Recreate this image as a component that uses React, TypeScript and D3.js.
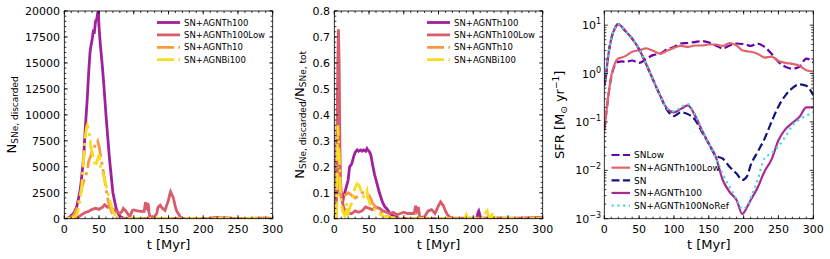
// Three-panel SNe / SFR comparison figure
import React, { useEffect, useRef } from 'react';
import * as d3 from 'd3';

const W = 830;
const H = 259;
const FONT = "'DejaVu Sans', sans-serif";

const labels = ['SN+AGNTh100', 'SN+AGNTh100Low', 'SN+AGNTh10', 'SN+AGNBi100'];
const colors = ['#a0229a', '#d95c6c', '#f99a3e', '#f6dd22'];

// ---- panel 1: N_SNe,discarded ----
const n1TimeTh100 = [3, 5, 8, 10, 13, 15, 18, 20, 23, 25, 28, 30, 33, 35, 37, 38, 40, 42, 43, 45, 47, 48, 49, 50, 51, 52, 55, 57, 60, 62, 65, 68, 70, 73, 75, 78, 80, 85, 90, 300];
const n1Th100 = [0, 50, 150, 300, 500, 700, 1200, 1800, 2800, 4000, 6000, 8500, 11500, 14000, 16000, 16500, 17200, 18200, 17800, 19000, 19300, 19800, 20000, 18500, 17500, 16700, 14500, 12800, 10000, 8300, 5800, 3800, 2500, 1500, 900, 450, 250, 50, 0, 0];
const n1TimeLow = [5, 10, 15, 20, 25, 30, 35, 40, 45, 48, 50, 52, 55, 58, 60, 62, 65, 68, 70, 73, 75, 78, 80, 83, 85, 88, 90, 93, 95, 98, 100, 105, 110, 115, 116, 117, 118, 119, 120, 121, 122, 123, 125, 130, 133, 135, 138, 140, 143, 145, 148, 150, 152, 153, 155, 157, 160, 162, 165, 167, 170, 180, 200, 210, 215, 220, 225, 230, 240, 260, 280, 290, 300];
const n1Low = [0, 20, 60, 150, 400, 600, 700, 900, 1000, 950, 900, 1000, 1100, 1350, 1250, 1100, 1200, 1050, 900, 800, 700, 600, 500, 700, 1000, 800, 600, 300, 300, 800, 850, 750, 700, 700, 1200, 1600, 1100, 1000, 1500, 1300, 600, 200, 200, 200, 500, 1100, 1300, 1100, 900, 800, 1400, 1800, 2400, 2600, 2300, 2000, 1100, 700, 400, 150, 0, 0, 0, 50, 100, 120, 80, 100, 50, 30, 50, 80, 30];
const n1TimeTh10 = [3, 8, 10, 13, 15, 18, 20, 23, 25, 28, 30, 33, 35, 38, 40, 43, 45, 47, 48, 50, 52, 55, 58, 60, 63, 65, 68, 70, 75, 80, 90, 300];
const n1Th10 = [0, 50, 100, 300, 500, 1000, 1500, 2300, 3000, 3600, 4000, 4600, 5500, 6000, 6500, 6800, 7200, 7400, 7500, 7000, 6200, 5000, 3800, 2800, 1800, 1200, 700, 400, 100, 0, 0, 0];
const n1TimeBi = [5, 10, 13, 15, 18, 20, 22, 25, 27, 28, 30, 32, 33, 35, 37, 38, 40, 42, 45, 47, 50, 52, 55, 58, 60, 63, 65, 68, 70, 73, 75, 80, 90, 300];
const n1Bi = [0, 50, 100, 200, 400, 800, 1500, 3000, 5000, 6000, 7800, 8800, 9000, 8500, 7800, 7000, 6400, 5800, 5000, 5500, 6200, 5000, 4500, 3800, 3200, 2500, 1800, 1200, 700, 400, 200, 0, 0, 0];

// ---- panel 2: fraction discarded ----
const n2TimeTh100 = [2, 3, 4, 5, 6, 7, 8, 10, 12, 13, 15, 17, 20, 22, 25, 28, 30, 33, 35, 38, 40, 42, 45, 47, 48, 50, 52, 53, 55, 58, 60, 63, 65, 68, 70, 73, 75, 78, 80, 85, 90, 95, 205, 207, 208, 209, 211, 300];
const n2Th100 = [0, 0.1, 0.3, 0.5, 0.25, 0.15, 0.1, 0.1, 0.06, 0.08, 0.1, 0.12, 0.15, 0.2, 0.21, 0.24, 0.255, 0.265, 0.26, 0.265, 0.26, 0.265, 0.26, 0.27, 0.265, 0.26, 0.25, 0.24, 0.21, 0.17, 0.15, 0.12, 0.1, 0.075, 0.06, 0.045, 0.04, 0.03, 0.02, 0.01, 0.005, 0, 0, 0.025, 0.03, 0.02, 0, 0];
const n2TimeLow = [3, 4, 5, 6, 7, 8, 9, 10, 12, 15, 18, 20, 25, 30, 35, 40, 45, 50, 55, 60, 65, 70, 75, 80, 85, 90, 95, 100, 105, 110, 115, 117, 119, 121, 123, 126, 130, 135, 140, 145, 150, 153, 157, 160, 163, 167, 170, 200, 230, 260, 300];
const n2Low = [0, 0.3, 0.6, 0.73, 0.6, 0.3, 0.15, 0.1, 0.06, 0.03, 0.02, 0.02, 0.02, 0.03, 0.025, 0.03, 0.045, 0.04, 0.035, 0.045, 0.04, 0.03, 0.025, 0.02, 0.025, 0.015, 0.02, 0.025, 0.02, 0.02, 0.02, 0.05, 0.03, 0.045, 0.005, 0.005, 0.008, 0.03, 0.035, 0.02, 0.05, 0.065, 0.05, 0.03, 0.015, 0.005, 0.002, 0.002, 0.003, 0.002, 0.005];
const n2TimeTh10 = [3, 4, 5, 6, 7, 8, 10, 12, 15, 18, 20, 23, 25, 28, 30, 33, 35, 38, 40, 43, 45, 48, 50, 53, 55, 58, 60, 65, 70, 75, 80, 90, 300];
const n2Th10 = [0, 0.1, 0.2, 0.15, 0.12, 0.1, 0.08, 0.085, 0.09, 0.095, 0.1, 0.095, 0.09, 0.085, 0.08, 0.085, 0.09, 0.095, 0.1, 0.1, 0.1, 0.095, 0.09, 0.075, 0.06, 0.05, 0.04, 0.03, 0.015, 0.01, 0.005, 0, 0];
const n2TimeBi = [3, 4, 5, 6, 7, 8, 9, 10, 12, 15, 17, 18, 19, 20, 22, 25, 28, 30, 32, 33, 35, 37, 40, 42, 45, 47, 48, 50, 52, 55, 58, 60, 65, 70, 80, 100, 188, 190, 192, 215, 218, 220, 222, 226, 228, 230, 232, 300];
const n2Bi = [0, 0.2, 0.36, 0.3, 0.25, 0.18, 0.1, 0.06, 0.03, 0.01, 0.03, 0.06, 0.03, 0.02, 0.04, 0.06, 0.1, 0.12, 0.13, 0.135, 0.13, 0.12, 0.09, 0.085, 0.1, 0.11, 0.08, 0.07, 0.05, 0.04, 0.035, 0.03, 0.02, 0.01, 0.005, 0, 0, 0.015, 0, 0, 0.025, 0.03, 0.01, 0.005, 0.025, 0.01, 0, 0];

// ---- panel 3: SFR ----
const sfrTime = [0, 2.5, 5, 10, 15, 20, 25, 30, 40, 50, 60, 70, 80, 90, 100, 110, 120, 130, 140, 150, 160, 170, 180, 190, 198, 205, 210, 220, 230, 240, 250, 260, 270, 280, 290, 300];
const sfrSNLow = [0.068, 0.14, 0.28, 0.85, 1.48, 1.74, 1.78, 1.74, 1.86, 1.66, 2.0, 2.4, 2.57, 3.16, 3.55, 4.17, 4.27, 4.47, 4.68, 4.37, 3.8, 3.31, 3.8, 4.17, 4.07, 3.89, 3.72, 4.17, 3.55, 2.57, 1.74, 1.38, 1.26, 1.38, 2.04, 1.7];
const sfrTh100Low = [0.068, 0.14, 0.28, 0.89, 1.58, 2.04, 2.14, 2.29, 2.82, 3.02, 3.31, 2.95, 2.57, 2.95, 3.39, 3.72, 3.55, 3.8, 3.8, 3.98, 3.98, 3.72, 4.27, 3.8, 3.02, 2.88, 2.82, 2.57, 2.14, 2.24, 1.82, 1.66, 1.58, 1.45, 1.17, 1.1];
const sfrSN = [0.56, 0.89, 2.0, 5.25, 8.5, 10.5, 9.3, 7.6, 5.25, 3.16, 1.58, 0.74, 0.355, 0.178, 0.132, 0.158, 0.145, 0.112, 0.063, 0.0355, 0.02, 0.0174, 0.0117, 0.0085, 0.0063, 0.0076, 0.0126, 0.024, 0.0447, 0.1, 0.209, 0.355, 0.5, 0.6, 0.56, 0.355];
const sfrTh100 = [0.56, 0.89, 2.0, 5.25, 8.5, 10.5, 9.3, 7.6, 5.25, 3.16, 1.58, 0.74, 0.355, 0.19, 0.158, 0.186, 0.219, 0.138, 0.068, 0.0355, 0.019, 0.0063, 0.00355, 0.0024, 0.00126, 0.00174, 0.0024, 0.00437, 0.0095, 0.0166, 0.0417, 0.0708, 0.0955, 0.126, 0.2, 0.2];
const sfrNoRef = [0.56, 0.89, 2.0, 5.25, 8.5, 10.5, 9.3, 7.6, 5.25, 3.16, 1.58, 0.74, 0.355, 0.19, 0.166, 0.2, 0.234, 0.145, 0.0708, 0.0355, 0.0178, 0.0085, 0.00447, 0.0025, 0.00158, 0.00186, 0.00263, 0.0063, 0.0178, 0.0224, 0.0316, 0.05, 0.085, 0.112, 0.135, 0.158];
const sfrLabels = ['SNLow', 'SN+AGNTh100Low', 'SN', 'SN+AGNTh100', 'SN+AGNTh100NoRef'];
const sfrColors = ['#6a00a8', '#e0646a', '#14147e', '#ab2898', '#48d8cf'];

const yTicks1 = [0, 2500, 5000, 7500, 10000, 12500, 15000, 17500, 20000];
const yTicks2 = [0, 0.1, 0.2, 0.3, 0.4, 0.5, 0.6, 0.7, 0.8];
const xTicks = [0, 50, 100, 150, 200, 250, 300];
const sfrTicks = [1e-3, 1e-2, 1e-1, 1, 10];
const sfrExp = ['\u22123', '\u22122', '\u22121', '0', '1'];

const TOP = 11;
const BOTTOM = 218.7;

type Sel = d3.Selection<SVGGElement, unknown, null, undefined>;

function frame(g: Sel, x: any, y: any, xMinor: number[], yMinor: number[], yMajor: number[]) {
  const [x0, x1] = x.range();
  const [yb, yt] = y.range();
  const tk = (len: number, xs: number[], ys: number[]) => {
    xs.forEach(v => {
      const px = x(v);
      g.append('line').attr('x1', px).attr('x2', px).attr('y1', yb).attr('y2', yb - len).attr('stroke', '#000').attr('stroke-width', 0.8);
      g.append('line').attr('x1', px).attr('x2', px).attr('y1', yt).attr('y2', yt + len).attr('stroke', '#000').attr('stroke-width', 0.8);
    });
    ys.forEach(v => {
      const py = y(v);
      g.append('line').attr('y1', py).attr('y2', py).attr('x1', x0).attr('x2', x0 + len).attr('stroke', '#000').attr('stroke-width', 0.8);
      g.append('line').attr('y1', py).attr('y2', py).attr('x1', x1).attr('x2', x1 - len).attr('stroke', '#000').attr('stroke-width', 0.8);
    });
  };
  tk(2, xMinor, yMinor);
  tk(3.5, xTicks, yMajor);
  g.append('rect').attr('x', x0).attr('y', yt).attr('width', x1 - x0).attr('height', yb - yt)
    .attr('fill', 'none').attr('stroke', '#000').attr('stroke-width', 0.8);
  xTicks.forEach(v => {
    g.append('text').attr('x', x(v)).attr('y', BOTTOM + 14.5).attr('text-anchor', 'middle')
      .attr('font-size', 11).text(String(v));
  });
  g.append('text').attr('x', (x0 + x1) / 2).attr('y', 248.5).attr('text-anchor', 'middle')
    .attr('font-size', 13).text('t [Myr]');
}

function legend(g: Sel, names: string[], cols: string[], dashes: (string | null)[], x0: number, x1: number, y0: number, dy: number, fs: number, lw: number) {
  names.forEach((n, i) => {
    const y = y0 + i * dy;
    g.append('line').attr('x1', x0).attr('x2', x1).attr('y1', y).attr('y2', y)
      .attr('stroke', cols[i]).attr('stroke-width', lw)
      .attr('stroke-dasharray', dashes[i]);
    g.append('text').attr('x', x1 + 4).attr('y', y + fs * 0.36).attr('font-size', fs).text(n);
  });
}

export default function App() {
  const ref = useRef<SVGSVGElement>(null);

  useEffect(() => {
    if (!ref.current) return;
    const svg = d3.select(ref.current);
    svg.selectAll('*').remove();
    const root = svg.append('g').attr('font-family', FONT).attr('fill', '#000') as unknown as Sel;
    const defs = svg.append('defs');

    const xMinor = d3.range(0, 301, 10);
    const dashDot = '17,4.5,3,4.5';

    // ---------- panel 1 ----------
    const x1 = d3.scaleLinear().domain([0, 300]).range([64.3, 272.7]);
    const y1 = d3.scaleLinear().domain([0, 20000]).range([BOTTOM, TOP]);
    defs.append('clipPath').attr('id', 'c1').append('rect')
      .attr('x', 64.3).attr('y', TOP).attr('width', 208.4).attr('height', BOTTOM - TOP);
    const p1 = root.append('g').attr('clip-path', 'url(#c1)');
    const line1 = d3.line<[number, number]>().x(d => x1(d[0])).y(d => y1(d[1]));
    const s1 = [d3.zip(n1TimeTh100, n1Th100), d3.zip(n1TimeLow, n1Low), d3.zip(n1TimeTh10, n1Th10), d3.zip(n1TimeBi, n1Bi)];
    s1.forEach((s, i) => {
      p1.append('path').attr('d', line1(s as [number, number][]) as string)
        .attr('fill', 'none').attr('stroke', colors[i]).attr('stroke-width', 2.8)
        .attr('stroke-dasharray', i >= 2 ? dashDot : null);
    });
    frame(root, x1, y1, xMinor, d3.range(0, 20001, 500), yTicks1);
    yTicks1.forEach(v => {
      root.append('text').attr('x', 60).attr('y', y1(v) + 4).attr('text-anchor', 'end')
        .attr('font-size', 11).text(String(v));
    });
    const yl1 = root.append('text').attr('transform', `translate(15.5,${(TOP + BOTTOM) / 2}) rotate(-90)`)
      .attr('text-anchor', 'middle').attr('font-size', 13);
    yl1.append('tspan').text('N');
    yl1.append('tspan').attr('font-size', 9).attr('dy', 2.5).text('SNe, discarded');
    legend(root, labels, colors, [null, null, dashDot, dashDot], 157, 180, 22.5, 12.4, 8.5, 2.8);

    // ---------- panel 2 ----------
    const x2 = d3.scaleLinear().domain([0, 300]).range([334.3, 542.7]);
    const y2 = d3.scaleLinear().domain([0, 0.8]).range([BOTTOM, TOP]);
    defs.append('clipPath').attr('id', 'c2').append('rect')
      .attr('x', 334.3).attr('y', TOP).attr('width', 208.4).attr('height', BOTTOM - TOP);
    const p2 = root.append('g').attr('clip-path', 'url(#c2)');
    const line2 = d3.line<[number, number]>().x(d => x2(d[0])).y(d => y2(d[1]));
    const s2 = [d3.zip(n2TimeTh100, n2Th100), d3.zip(n2TimeLow, n2Low), d3.zip(n2TimeTh10, n2Th10), d3.zip(n2TimeBi, n2Bi)];
    s2.forEach((s, i) => {
      p2.append('path').attr('d', line2(s as [number, number][]) as string)
        .attr('fill', 'none').attr('stroke', colors[i]).attr('stroke-width', 2.8)
        .attr('stroke-dasharray', i >= 2 ? dashDot : null);
    });
    frame(root, x2, y2, xMinor, d3.range(0, 0.8001, 0.02), yTicks2);
    yTicks2.forEach(v => {
      root.append('text').attr('x', 330).attr('y', y2(v) + 4).attr('text-anchor', 'end')
        .attr('font-size', 11).text(v.toFixed(1));
    });
    const yl2 = root.append('text').attr('transform', `translate(303.5,${(TOP + BOTTOM) / 2}) rotate(-90)`)
      .attr('text-anchor', 'middle').attr('font-size', 13);
    yl2.append('tspan').text('N');
    yl2.append('tspan').attr('font-size', 9).attr('dy', 2.5).text('SNe, discarded');
    yl2.append('tspan').attr('dy', -2.5).text('/N');
    yl2.append('tspan').attr('font-size', 9).attr('dy', 2.5).text('SNe, tot');
    legend(root, labels, colors, [null, null, dashDot, dashDot], 427, 450, 22.5, 12.4, 8.5, 2.8);

    // ---------- panel 3 ----------
    const x3 = d3.scaleLinear().domain([0, 300]).range([604.3, 813.3]);
    const y3 = d3.scaleLog().domain([1e-3, 19.6]).range([BOTTOM, TOP]);
    defs.append('clipPath').attr('id', 'c3').append('rect')
      .attr('x', 604.3).attr('y', TOP).attr('width', 209).attr('height', BOTTOM - TOP);
    const p3 = root.append('g').attr('clip-path', 'url(#c3)');
    const line3 = d3.line<[number, number]>().x(d => x3(d[0])).y(d => y3(d[1])).curve(d3.curveMonotoneX);
    const s3 = [sfrSNLow, sfrTh100Low, sfrSN, sfrTh100, sfrNoRef].map(v => d3.zip(sfrTime, v));
    const sfrDash = ['8,3.5', null, '8,3.5', null, '2.2,3.6'];
    s3.forEach((s, i) => {
      p3.append('path').attr('d', line3(s as [number, number][]) as string)
        .attr('fill', 'none').attr('stroke', sfrColors[i]).attr('stroke-width', 2.2)
        .attr('stroke-dasharray', sfrDash[i]);
    });
    const logMinor: number[] = [];
    [-3, -2, -1, 0, 1].forEach(e => d3.range(2, 10).forEach(k => {
      const v = k * Math.pow(10, e);
      if (v < 19.6) logMinor.push(v);
    }));
    frame(root, x3, y3, xMinor, logMinor, sfrTicks);
    sfrTicks.forEach((v, i) => {
      const t = root.append('text').attr('x', 601).attr('y', y3(v) + 4).attr('text-anchor', 'end')
        .attr('font-size', 11);
      t.append('tspan').text('10');
      t.append('tspan').attr('font-size', 8).attr('dy', -5).text(sfrExp[i]);
    });
    const yl3 = root.append('text').attr('transform', `translate(564,${(TOP + BOTTOM) / 2}) rotate(-90)`)
      .attr('text-anchor', 'middle').attr('font-size', 13);
    yl3.append('tspan').text('SFR [M');
    yl3.append('tspan').attr('font-size', 9).attr('dy', 2.5).text('\u2299');
    yl3.append('tspan').attr('dy', -2.5).text(' yr');
    yl3.append('tspan').attr('font-size', 9).attr('dy', -5).text('\u22121');
    yl3.append('tspan').attr('dy', 5).text(']');
    legend(root, sfrLabels, sfrColors, ['8,3.5', null, '8,3.5', null, '2.2,3.6'], 611.5, 630, 155, 12.65, 9, 2.2);
  }, []);

  return (
    <svg ref={ref} width={W} height={H}
      style={{ position: 'absolute', left: 0, top: 0, background: '#fff' }} />
  );
}
